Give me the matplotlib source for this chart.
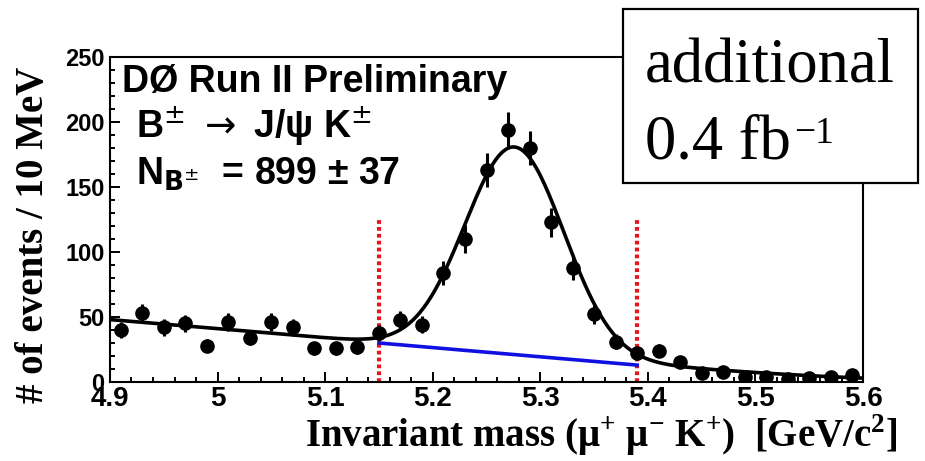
import matplotlib
matplotlib.use("Agg")
import matplotlib.pyplot as plt
import numpy as np
from matplotlib.patches import Rectangle
from matplotlib.ticker import MultipleLocator

plt.rcParams['mathtext.fontset'] = 'custom'
plt.rcParams['mathtext.rm'] = 'Liberation Serif'
plt.rcParams['mathtext.bf'] = 'Liberation Serif:bold'

# bin centres (GeV) and events per bin
mass = [4.91, 4.93, 4.95, 4.97, 4.99, 5.01, 5.03, 5.05, 5.07, 5.09,
        5.11, 5.13, 5.15, 5.17, 5.19, 5.21, 5.23, 5.25, 5.27, 5.29,
        5.31, 5.33, 5.35, 5.37, 5.39, 5.41, 5.43, 5.45, 5.47, 5.49,
        5.51, 5.53, 5.55, 5.57, 5.59]
counts = [40, 53, 42, 45, 28, 46, 34, 46, 42, 26,
          26, 27, 38, 48, 44, 84, 110, 163, 194, 180,
          123, 88, 52, 31, 22, 24, 15, 7, 8, 4,
          4, 2, 3, 4, 5]

# fit parameters
peak_mean = 5.276
peak_sigma = 0.046
peak_height = 159.0
bkg_at_49 = 48.0
bkg_slope = -70.0
bkg_soft = 5.0

# signal window and background under the peak
window = [5.15, 5.39]
window_top = 126
blue_x = [5.15, 5.39]
blue_y = [30, 13]

xticks = [4.9, 5.0, 5.1, 5.2, 5.3, 5.4, 5.5, 5.6]
xticklabels = ['4.9', '5', '5.1', '5.2', '5.3', '5.4', '5.5', '5.6']
yticks = [0, 50, 100, 150, 200, 250]

fig = plt.figure(figsize=(9.25, 4.61), dpi=100)
ax = fig.add_axes([0.1189, 0.1714, 0.8141, 0.705])

xf = np.linspace(4.9, 5.6, 600)
lin = bkg_at_49 + bkg_slope * (xf - 4.9)
bkg = bkg_soft * np.log1p(np.exp(lin / bkg_soft))
fit = bkg + peak_height * np.exp(-0.5 * ((xf - peak_mean) / peak_sigma) ** 2)

for xv in window:
    ax.plot([xv, xv], [0, window_top], color='#e8141c', lw=3.0,
            linestyle=(0, (0.9, 0.75)), zorder=2)
ax.plot(blue_x, blue_y, color='#1010e0', lw=2.6, zorder=3)
ax.plot(xf, fit, color='black', lw=2.6, zorder=4)

cnt = np.array(counts, dtype=float)
ax.errorbar(mass, cnt, yerr=np.sqrt(cnt), fmt='o', color='black',
            markersize=9.5, elinewidth=2.2, capsize=0, zorder=5)

ax.set_xlim(4.9, 5.6)
ax.set_ylim(0, 250)
ax.set_xticks(xticks)
ax.set_xticklabels(xticklabels)
ax.set_yticks(yticks)
ax.xaxis.set_minor_locator(MultipleLocator(0.02))
ax.yaxis.set_minor_locator(MultipleLocator(10))
ax.tick_params(which='both', direction='in', width=1.4, top=False, right=False)
ax.tick_params(which='major', length=7)
ax.tick_params(which='minor', length=3.5)
ax.tick_params(axis='x', pad=3)
ax.tick_params(axis='y', pad=4)
for lab in ax.get_xticklabels():
    lab.set_fontfamily('Liberation Sans')
    lab.set_fontweight('bold')
    lab.set_fontsize(20)
for lab in ax.get_yticklabels():
    lab.set_fontfamily('Liberation Sans')
    lab.set_fontweight('bold')
    lab.set_fontsize(17)
for sp in ax.spines.values():
    sp.set_linewidth(1.5)

sans = dict(family='Liberation Sans', fontweight='bold', fontsize=27,
            transform=ax.transAxes, va='baseline', ha='left',
            math_fontfamily='dejavusans')
ax.text(0.016, 0.892, 'DØ Run II Preliminary', **sans)
ax.text(0.035, 0.751, r'B$^{\pm}$ $\rightarrow$ J/ψ K$^{\pm}$', **sans)
ax.text(0.035, 0.606, r'N$_{\mathbf{B}^{\pm}}$  = 899 ± 37', **sans)

fig.text(0.97, 0.03, r'Invariant mass (μ$^{\mathbf{+}}$ μ$^{\mathbf{-}}$ K$^{\mathbf{+}}$)  [GeV/c$^{\mathbf{2}}$]',
         family='Liberation Serif', fontweight='bold', fontsize=28,
         ha='right', va='baseline')
fig.text(0.036, 0.49, '# of events / 10 MeV', family='Liberation Serif',
         fontweight='bold', fontsize=28, rotation=90, ha='center', va='center')

# luminosity box over the top-right corner
fig.patches.append(Rectangle((0.6735, 0.603), 0.319, 0.3774, transform=fig.transFigure,
                             facecolor='white', edgecolor='black', lw=1.6, zorder=10))
fig.text(0.697, 0.822, 'additional', family='Liberation Serif', fontsize=45,
         va='baseline', ha='left', zorder=11)
lumi = fig.text(0.697, 0.657, '0.4 fb', family='Liberation Serif', fontsize=45,
                va='baseline', ha='left', zorder=11)
fig.canvas.draw()
ext = lumi.get_window_extent(fig.canvas.get_renderer())
fig.text(ext.x1 / fig.bbox.width + 0.004, 0.69, '−1', family='Liberation Serif',
         fontsize=27, va='baseline', ha='left', zorder=11)

fig.savefig('out.png', dpi=100)
